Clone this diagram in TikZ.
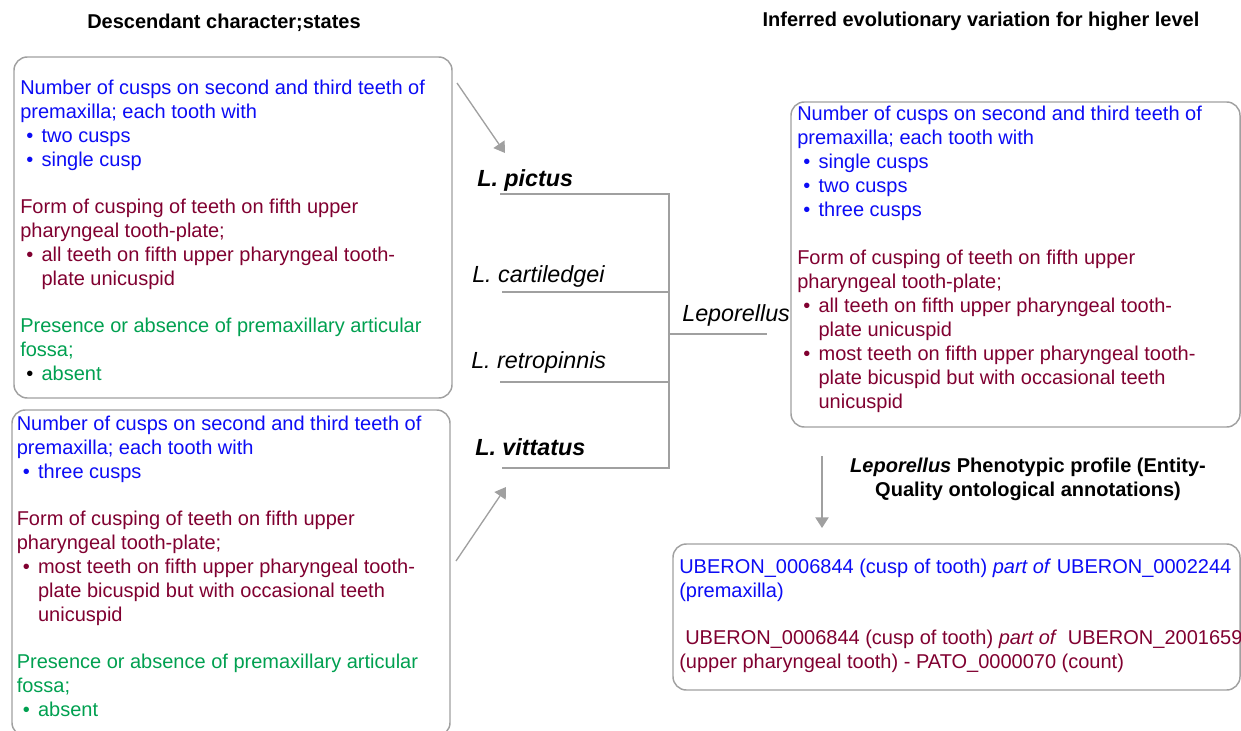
\documentclass[tikz,border=0pt]{standalone}
\usepackage{fontspec}
\setmainfont{Liberation Sans}
\usetikzlibrary{arrows.meta,fit}
\definecolor{bT}{RGB}{12,12,245}
\definecolor{mT}{RGB}{128,0,48}
\definecolor{gT}{RGB}{0,160,80}
\definecolor{lineG}{RGB}{160,160,160}
\newcommand\bl[1]{\makebox[16pt][l]{\hspace{4.5pt}\textbullet}#1}
\newcommand\blk[1]{\makebox[16pt][l]{\hspace{4.5pt}\textcolor{black}{\textbullet}}#1}
\newcommand\ind{\makebox[16pt]{}}
\begin{document}
\begin{tikzpicture}[x=0.75pt,y=-0.75pt,
  box/.style={draw=lineG,line width=1.1pt,rounded corners=10pt,inner sep=0pt},
  txt/.style={anchor=north west,inner sep=0pt,align=left,font=\fontsize{15}{18}\selectfont},
  head/.style={anchor=base,inner sep=0pt,align=center,font=\fontsize{15}{18}\selectfont\bfseries},
  taxon/.style={anchor=base west,inner sep=0pt,font=\fontsize{17.5}{21}\selectfont\itshape},
  tree/.style={draw=lineG,line width=1.1pt},
  arr/.style={draw=lineG,line width=1pt,-{Triangle[length=8pt,width=10pt]}}]
\useasboundingbox (0,0) rectangle (1241,731);
\clip (0,0) rectangle (1241,731);

% headings
\node[head] (h1) at (224,29) {Descendant character;states};
\node[head] (h2) at (981,27) {Inferred evolutionary variation for higher level};

% boxes
\node[box,fit={(14,57) (452,398)}] (b1) {};
\node[box,fit={(12,410) (450,736)}] (b2) {};
\node[box,fit={(791,102) (1240,427)}] (b3) {};
\node[box,fit={(673,544) (1240,690)}] (b4) {};

% box 1 text
\node[txt] (t1) at (20,77.2) {%
\textcolor{bT}{\strut Number of cusps on second and third teeth of}\\
\textcolor{bT}{premaxilla; each tooth with}\\
\textcolor{bT}{\bl{two cusps}}\\
\textcolor{bT}{\bl{single cusp}}\\[17.5pt]
\textcolor{mT}{Form of cusping of teeth on fifth upper}\\
\textcolor{mT}{pharyngeal tooth-plate;}\\
\textcolor{mT}{\bl{all teeth on fifth upper pharyngeal tooth-}}\\
\textcolor{mT}{\ind plate unicuspid}\\[17.5pt]
\textcolor{gT}{Presence or absence of premaxillary articular}\\
\textcolor{gT}{fossa;}\\
\textcolor{gT}{\blk{absent}}};

% box 2 text
\node[txt] (t2) at (16.5,413.2) {%
\textcolor{bT}{\strut Number of cusps on second and third teeth of}\\
\textcolor{bT}{premaxilla; each tooth with}\\
\textcolor{bT}{\bl{three cusps}}\\[17.5pt]
\textcolor{mT}{Form of cusping of teeth on fifth upper}\\
\textcolor{mT}{pharyngeal tooth-plate;}\\
\textcolor{mT}{\bl{most teeth on fifth upper pharyngeal tooth-}}\\
\textcolor{mT}{\ind plate bicuspid but with occasional teeth}\\
\textcolor{mT}{\ind unicuspid}\\[17.5pt]
\textcolor{gT}{Presence or absence of premaxillary articular}\\
\textcolor{gT}{fossa;}\\
\textcolor{gT}{\bl{absent}}};

% box 3 text
\node[txt] (t3) at (797,103.8) {%
\textcolor{bT}{\strut Number of cusps on second and third teeth of}\\
\textcolor{bT}{premaxilla; each tooth with}\\
\textcolor{bT}{\bl{single cusps}}\\
\textcolor{bT}{\bl{two cusps}}\\
\textcolor{bT}{\bl{three cusps}}\\[17.5pt]
\textcolor{mT}{Form of cusping of teeth on fifth upper}\\
\textcolor{mT}{pharyngeal tooth-plate;}\\
\textcolor{mT}{\bl{all teeth on fifth upper pharyngeal tooth-}}\\
\textcolor{mT}{\ind plate unicuspid}\\
\textcolor{mT}{\bl{most teeth on fifth upper pharyngeal tooth-}}\\
\textcolor{mT}{\ind plate bicuspid but with occasional teeth}\\
\textcolor{mT}{\ind unicuspid}};

% box 4 text
\node[txt] (t4) at (679,556) {%
\textcolor{bT}{\strut UBERON\_0006844 (cusp of tooth) \textit{part of} UBERON\_0002244}\\
\textcolor{bT}{(premaxilla)}\\[17.5pt]
\textcolor{mT}{\hspace*{4.5pt}UBERON\_0006844 (cusp of tooth) \textit{part of}\hspace{8pt}UBERON\_2001659}\\
\textcolor{mT}{(upper pharyngeal tooth) - PATO\_0000070 (count)}};

% profile heading
\node[head] (h3) at (1028,496) {\textit{Leporellus} Phenotypic profile (Entity-\\Quality ontological annotations)};

% taxa
\node[taxon,font=\fontsize{17.5}{21}\selectfont\bfseries\itshape] (pic) at (477,186) {L. pictus};
\node[taxon] (car) at (472,282) {L. cartiledgei};
\node[taxon] (ret) at (471,368) {L. retropinnis};
\node[taxon,font=\fontsize{17.5}{21}\selectfont\bfseries\itshape] (vit) at (475,455) {L. vittatus};
\node[taxon] (lep) at (682,321) {Leporellus};

% tree
\coordinate (p1) at (500,194);
\coordinate (p2) at (502,292);
\coordinate (p3) at (500,382);
\coordinate (p4) at (502,468);
\coordinate (v1) at (669,194);
\coordinate (v2) at (669,292);
\coordinate (v3) at (669,382);
\coordinate (v4) at (669,468);
\coordinate (r0) at (669,334);
\coordinate (r1) at (767,334);
\draw[tree] (p1) -- (v1) -- (v4) -- (p4);
\draw[tree] (p2) -- (v2);
\draw[tree] (p3) -- (v3);
\draw[tree] (r0) -- (r1);

% arrows
\coordinate (a1s) at (457,83);
\coordinate (a1e) at (505,153);
\coordinate (a2s) at (456,561);
\coordinate (a2e) at (506,487);
\coordinate (a3s) at (822,456);
\coordinate (a3e) at (822,528);
\draw[arr] (a1s) -- (a1e);
\draw[arr] (a2s) -- (a2e);
\draw[arr] (a3s) -- (a3e);
\end{tikzpicture}
\end{document}
